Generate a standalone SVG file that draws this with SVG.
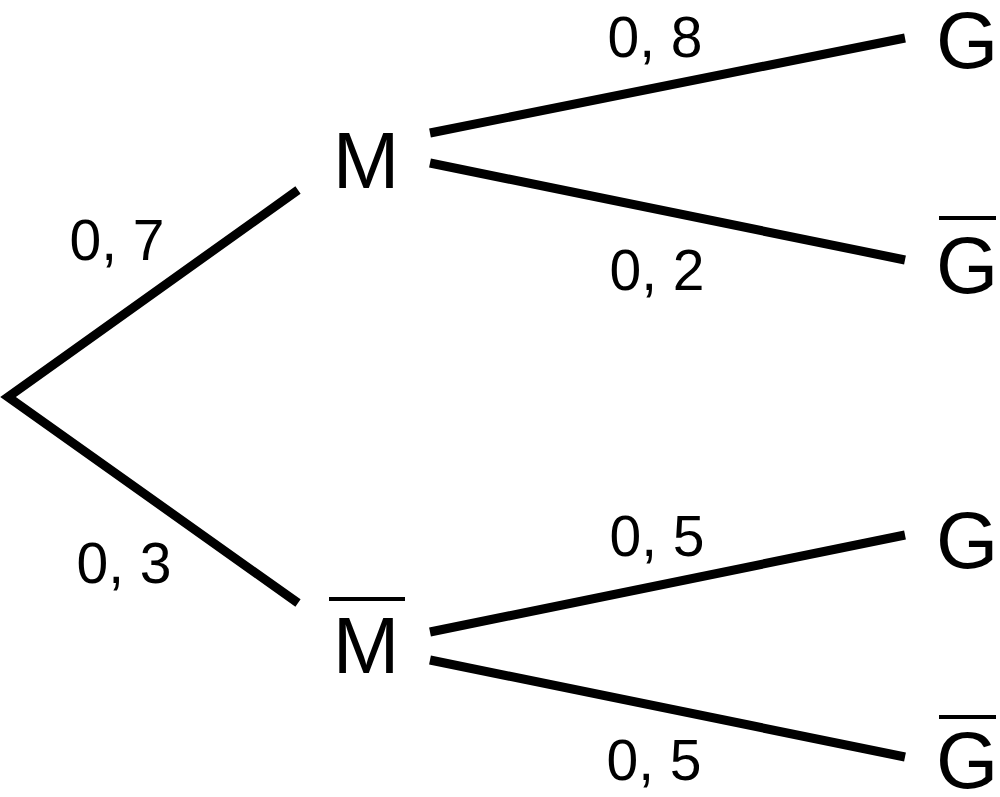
<svg xmlns="http://www.w3.org/2000/svg" width="1000" height="797" viewBox="0 0 1000 797">
<style>
.e{stroke:#000;stroke-width:9;fill:none;stroke-linecap:butt}
.o{stroke:#000;stroke-width:4}
.n{font-family:"Liberation Sans",Arial,sans-serif;font-size:80px;text-anchor:middle}
.p{font-family:"Liberation Sans",Arial,sans-serif;font-size:57px;text-anchor:middle}
</style>
<rect width="1000" height="797" fill="#fff"/>
<g id="connectors">
<path class="e" d="M298,190 L8,397 L298,603"/>
<line class="e" x1="430" y1="133" x2="905" y2="38"/>
<line class="e" x1="430" y1="163" x2="905" y2="260"/>
<line class="e" x1="430" y1="632" x2="905" y2="535"/>
<line class="e" x1="430" y1="660" x2="905" y2="757"/>
</g>
<g id="M"><text class="n" x="366" y="188">M</text></g>
<g id="Mbar"><line class="o" x1="329" y1="599" x2="405" y2="599"/><text class="n" x="366" y="673">M</text></g>
<g id="G1"><text class="n" x="967" y="68">G</text></g>
<g id="Gbar1"><line class="o" x1="939" y1="218" x2="996" y2="218"/><text class="n" x="967" y="293">G</text></g>
<g id="G2"><text class="n" x="967" y="568">G</text></g>
<g id="Gbar2"><line class="o" x1="939" y1="717" x2="996" y2="717"/><text class="n" x="967" y="788">G</text></g>
<g id="labels">
<text class="p" x="655" y="57">0, 8</text>
<text class="p" x="657" y="290">0, 2</text>
<text class="p" x="117" y="260">0, 7</text>
<text class="p" x="124" y="583">0, 3</text>
<text class="p" x="657" y="556">0, 5</text>
<text class="p" x="654" y="780">0, 5</text>
</g>
</svg>
